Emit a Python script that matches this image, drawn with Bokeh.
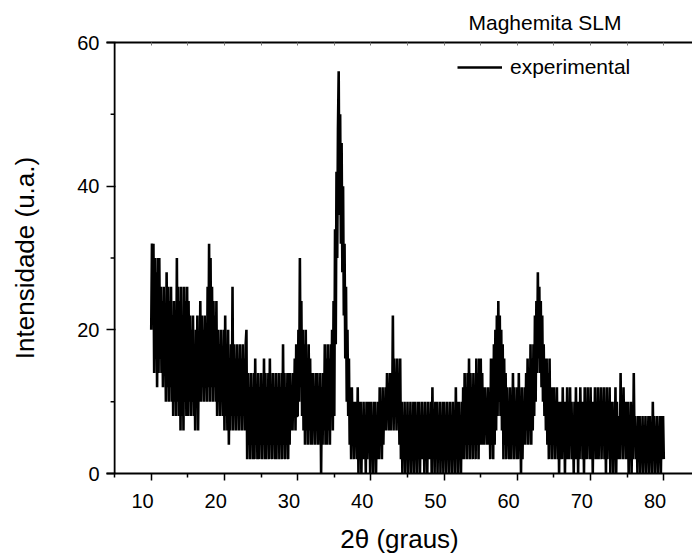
import numpy as np
from bokeh.plotting import figure
from bokeh.models import Range1d, LinearAxis, FixedTicker, Span, Legend, LegendItem
from bokeh.embed import file_html
from bokeh.resources import INLINE

FONT = "Liberation Sans"

# ---- data: XRD pattern, 2theta from 10.0 to 80.0 in 0.1 degree steps ----
two_theta_start = 10.0
two_theta_step = 0.1

y_10s = [20, 32, 24, 32, 14, 30, 16, 28, 12, 30,
         14, 30, 16, 26, 14, 24, 12, 26, 14, 22,
         10, 28, 12, 26, 10, 24, 12, 26, 10, 22,
         8, 24, 10, 22, 8, 30, 10, 26, 8, 24,
         6, 26, 8, 22, 6, 26, 10, 24, 8, 26,
         8, 24, 10, 22, 8, 20, 10, 22, 8, 18,
         6, 20, 10, 22, 6, 18, 10, 24, 10, 22,
         12, 20, 10, 22, 12, 18, 10, 26, 12, 32,
         10, 30, 12, 26, 10, 24, 12, 22, 10, 24,
         8, 20, 10, 18, 8, 20, 10, 16, 8, 20]

y_20s = [6, 22, 8, 18, 6, 20, 4, 16, 6, 18,
         8, 26, 6, 18, 8, 16, 6, 18, 8, 16,
         6, 18, 8, 16, 6, 18, 8, 16, 6, 18,
         20, 2, 14, 4, 12, 2, 14, 4, 12, 2,
         14, 2, 16, 4, 12, 2, 14, 2, 12, 4,
         14, 2, 12, 4, 16, 2, 14, 2, 12, 4,
         14, 2, 16, 4, 12, 2, 14, 4, 12, 2,
         14, 2, 12, 4, 14, 2, 12, 4, 14, 2,
         18, 4, 14, 2, 12, 4, 14, 2, 14, 4,
         14, 6, 12, 6, 14, 8, 16, 6, 18, 8]

y_30s = [8, 20, 10, 30, 12, 24, 8, 20, 6, 18,
         4, 20, 6, 16, 4, 18, 6, 16, 4, 14,
         4, 14, 6, 12, 4, 14, 6, 14, 4, 12,
         6, 14, 0, 12, 4, 14, 6, 18, 4, 16,
         4, 18, 6, 16, 4, 18, 8, 20, 6, 24,
         8, 34, 18, 42, 30, 48, 56, 36, 50, 32,
         46, 28, 40, 22, 32, 16, 26, 10, 20, 8,
         16, 4, 12, 2, 12, 4, 10, 2, 10, 4,
         10, 2, 12, 0, 10, 2, 10, 0, 8, 2,
         10, 2, 8, 0, 10, 2, 10, 4, 10, 0]

y_40s = [10, 2, 8, 0, 10, 2, 10, 0, 8, 2,
         10, 2, 12, 4, 10, 2, 12, 4, 10, 6,
         12, 6, 14, 8, 12, 6, 14, 6, 12, 8,
         22, 6, 16, 8, 14, 6, 16, 8, 14, 4,
         16, 2, 10, 0, 8, 2, 10, 0, 8, 2,
         10, 0, 8, 2, 10, 0, 8, 2, 10, 0,
         10, 2, 8, 0, 10, 2, 10, 0, 8, 2,
         10, 2, 8, 0, 10, 2, 8, 0, 10, 2,
         8, 2, 10, 0, 12, 2, 8, 0, 10, 2,
         10, 0, 8, 2, 10, 0, 8, 2, 10, 0]

y_50s = [10, 2, 8, 0, 10, 2, 8, 0, 10, 2,
         8, 0, 10, 2, 8, 0, 12, 2, 10, 0,
         10, 2, 8, 0, 10, 2, 12, 2, 14, 4,
         12, 2, 14, 4, 16, 2, 14, 4, 12, 2,
         14, 4, 12, 2, 16, 4, 14, 2, 16, 4,
         16, 4, 14, 4, 12, 4, 12, 6, 10, 4,
         12, 4, 10, 2, 16, 4, 16, 2, 18, 4,
         20, 6, 22, 8, 24, 10, 22, 8, 20, 6,
         18, 2, 16, 4, 14, 2, 12, 4, 10, 2,
         12, 2, 10, 4, 14, 2, 12, 4, 10, 2]

y_60s = [12, 2, 14, 4, 10, 0, 12, 2, 10, 4,
         12, 4, 14, 6, 16, 4, 12, 6, 18, 4,
         16, 6, 18, 8, 22, 10, 24, 14, 28, 16,
         26, 14, 24, 12, 22, 10, 18, 8, 16, 6,
         16, 4, 14, 2, 16, 4, 12, 2, 12, 4,
         12, 2, 10, 4, 12, 2, 10, 0, 10, 2,
         10, 2, 12, 4, 10, 0, 10, 2, 12, 2,
         10, 2, 12, 4, 10, 2, 8, 0, 10, 2,
         12, 2, 10, 0, 10, 2, 12, 4, 10, 2,
         10, 0, 12, 2, 10, 2, 12, 4, 10, 2]

y_70s = [12, 2, 10, 0, 10, 4, 12, 2, 10, 2,
         12, 2, 10, 4, 12, 2, 10, 4, 12, 2,
         10, 0, 12, 2, 10, 4, 12, 0, 10, 2,
         10, 0, 8, 2, 12, 0, 10, 2, 8, 4,
         2, 14, 4, 10, 2, 12, 4, 10, 2, 10,
         2, 10, 0, 8, 2, 10, 0, 8, 2, 14,
         4, 8, 2, 6, 0, 8, 2, 8, 0, 6,
         2, 8, 0, 6, 2, 8, 0, 6, 2, 8,
         0, 8, 2, 6, 0, 10, 2, 8, 0, 6,
         2, 8, 0, 6, 2, 8, 0, 8, 2, 8,
         2]

intensity = y_10s + y_20s + y_30s + y_40s + y_50s + y_60s + y_70s
two_theta = [round(two_theta_start + i * two_theta_step, 2) for i in range(len(intensity))]

x_ticks = [10, 20, 30, 40, 50, 60, 70, 80]
x_minor_ticks = [5, 15, 25, 35, 45, 55, 65, 75, 85]
y_ticks = [0, 20, 40, 60]
y_minor_ticks = [10, 30, 50]
x_axis_origin = 5

x_start, x_end = 3.89, 83.92
label_shift = 1.19
y_minor_tick_len = 0.55  # in x data units (about 4 px)

AXIS_W = 1.8

p = figure(width=692, height=556, x_range=Range1d(x_start, x_end), y_range=Range1d(0, 60),
           output_backend="svg", toolbar_location=None,
           x_axis_location=None, y_axis_location=None,
           min_border_left=106, min_border_right=0, min_border_top=42, min_border_bottom=83)
p.grid.visible = False
p.outline_line_color = None
p.background_fill_color = "white"
p.border_fill_color = "white"

r = p.line(two_theta, intensity, line_color="black", line_width=2.6, line_join="bevel")

# left axis line at x = 5 with its minor ticks
p.add_layout(Span(location=x_axis_origin, dimension="height", line_color="black", line_width=AXIS_W))
p.segment(x0=[x_axis_origin - y_minor_tick_len] * len(y_minor_ticks),
          x1=[x_axis_origin] * len(y_minor_ticks),
          y0=y_minor_ticks, y1=y_minor_ticks, line_color="black", line_width=1.5)

yax = LinearAxis(ticker=FixedTicker(ticks=y_ticks, minor_ticks=[]))
yax.axis_line_color = None
yax.major_tick_in = 9
yax.major_tick_out = 0
yax.minor_tick_in = 0
yax.minor_tick_out = 0
yax.major_tick_line_color = "black"
yax.minor_tick_line_color = None
yax.major_tick_line_width = 1.5
yax.major_label_standoff = 7
yax.major_label_text_font = FONT
yax.major_label_text_font_size = "20px"
yax.major_label_text_color = "black"
yax.axis_label = "Intensidade (u.a.)"
yax.axis_label_text_font = FONT
yax.axis_label_text_font_size = "26px"
yax.axis_label_text_font_style = "normal"
yax.axis_label_text_color = "black"
yax.axis_label_standoff = 34
p.add_layout(yax, "left")

xax = LinearAxis(ticker=FixedTicker(ticks=x_ticks, minor_ticks=x_minor_ticks))
xax.axis_line_color = "black"
xax.axis_line_width = AXIS_W
xax.major_tick_out = 7
xax.major_tick_in = 0
xax.minor_tick_out = 4
xax.minor_tick_in = 0
xax.major_tick_line_width = 1.5
xax.minor_tick_line_width = 1.5
xax.major_label_text_color = None
xax.major_label_text_font_size = "1px"
xax.major_label_standoff = 0
p.add_layout(xax, "below")

p.extra_x_ranges = {"labels": Range1d(x_start + label_shift, x_end + label_shift)}
xlab = LinearAxis(x_range_name="labels", ticker=FixedTicker(ticks=x_ticks, minor_ticks=[]))
xlab.axis_line_color = None
xlab.major_tick_line_color = None
xlab.minor_tick_line_color = None
xlab.major_tick_in = 0
xlab.major_tick_out = 0
xlab.minor_tick_in = 0
xlab.minor_tick_out = 0
xlab.major_label_standoff = 13
xlab.major_label_text_font = FONT
xlab.major_label_text_font_size = "20px"
xlab.major_label_text_color = "black"
xlab.axis_label = "2θ (graus)"
xlab.axis_label_text_font = FONT
xlab.axis_label_text_font_size = "26px"
xlab.axis_label_text_font_style = "normal"
xlab.axis_label_text_color = "black"
xlab.axis_label_standoff = 13
p.add_layout(xlab, "below")

tax = LinearAxis(ticker=FixedTicker(ticks=x_ticks, minor_ticks=x_minor_ticks))
tax.axis_line_color = "black"
tax.axis_line_width = AXIS_W
tax.major_tick_in = 3
tax.major_tick_out = 0
tax.minor_tick_in = 3
tax.minor_tick_out = 0
tax.major_tick_line_width = 1
tax.minor_tick_line_width = 1
tax.major_tick_line_color = "#777777"
tax.minor_tick_line_color = "#777777"
tax.major_label_text_color = None
tax.major_label_text_font_size = "1px"
tax.major_label_standoff = 0
p.add_layout(tax, "above")

p.title.text = "Maghemita SLM"
p.title.align = "left"
p.title.offset = 362
p.title.text_font = FONT
p.title.text_font_size = "21px"
p.title.text_font_style = "normal"
p.title.text_color = "black"
p.title.standoff = 17

legend = Legend(items=[LegendItem(label="experimental", renderers=[r])],
                location=(351, 394), border_line_color=None, background_fill_alpha=0,
                padding=0, margin=0, spacing=0, glyph_width=45, glyph_height=20,
                label_height=20, label_standoff=8, label_text_font=FONT,
                label_text_font_size="21px", label_text_color="black")
p.add_layout(legend)

open("out.html", "w").write(file_html(p, INLINE))
